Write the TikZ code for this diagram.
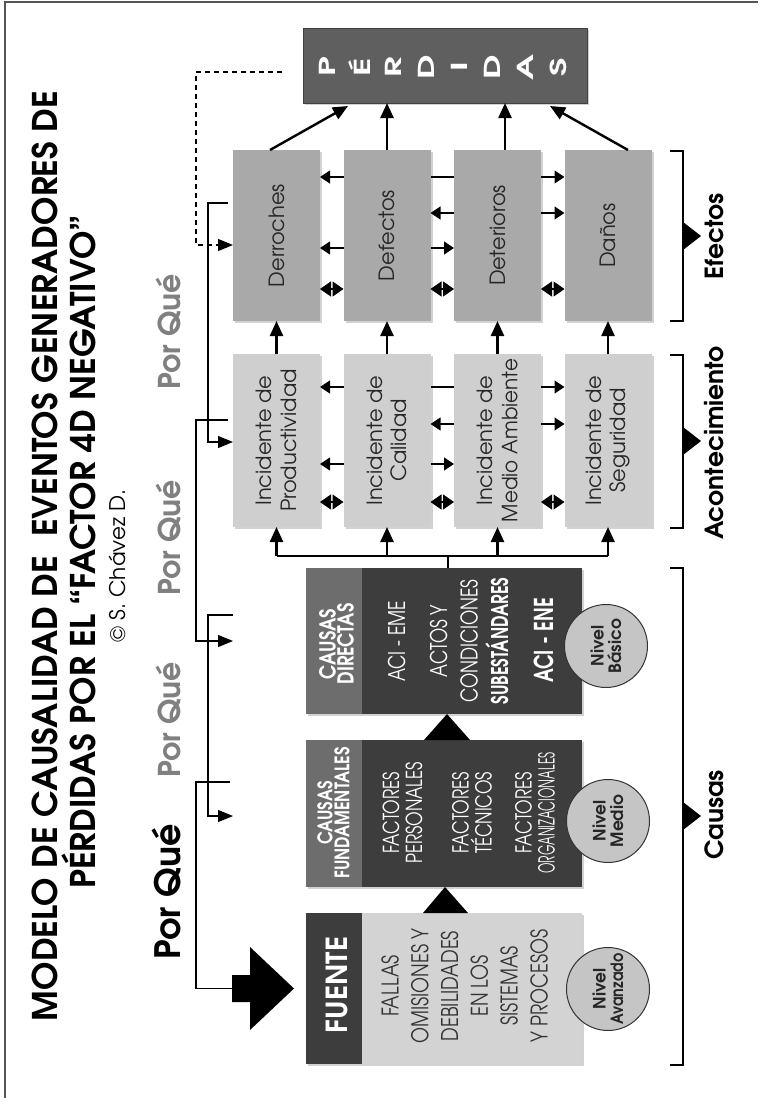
\documentclass[tikz,border=0pt]{standalone}
\usepackage{fontspec}
\setmainfont{texgyreadventor}[Extension=.otf,UprightFont=*-regular,BoldFont=*-bold,ItalicFont=*-italic,BoldItalicFont=*-bolditalic]
\newfontfamily\condR{texgyreadventor}[Extension=.otf,UprightFont=*-regular,BoldFont=*-bold,FakeStretch=0.76]
\newfontfamily\condB{texgyreadventor-bold}[Extension=.otf,FakeStretch=0.72]
\newfontfamily\condH{texgyreadventor-bold}[Extension=.otf,FakeStretch=0.82]
\newfontfamily\condF{texgyreadventor}[Extension=.otf,UprightFont=*-regular,FakeStretch=0.8]
\usetikzlibrary{arrows.meta,calc,shadows}
\definecolor{perdc}{HTML}{5F5F5F}
\definecolor{efc}{HTML}{A9A9A9}
\definecolor{inc}{HTML}{CFCFCF}
\definecolor{chd}{HTML}{6D6D6D}
\definecolor{cbd}{HTML}{3D3D3D}
\definecolor{fub}{HTML}{D3D3D3}
\definecolor{circc}{HTML}{C5C5C5}
\definecolor{pqg}{HTML}{808080}
\definecolor{fucol}{HTML}{333333}
\definecolor{framec}{HTML}{555555}
\begin{document}
\begin{tikzpicture}[x=1pt,y=-1pt,
  every node/.style={inner sep=0pt,outer sep=0pt},
  txt/.style={rotate=90,align=center},
  shd/.style={drop shadow={shadow xshift=2pt,shadow yshift=-2pt,opacity=.35}},
  ebox/.style={fill=efc,minimum width=87pt,minimum height=171pt,shd},
  ibox/.style={fill=inc,minimum width=87pt,minimum height=173pt,shd},
  cbox/.style={fill=cbd,minimum width=276pt,shd},
  circ/.style={circle,draw=fucol,line width=1pt,fill=circc,minimum size=83pt,rotate=90,align=center,
    font=\bfseries\fontsize{17}{17.5}\selectfont,text=black!85},
  btxt/.style={txt,font=\fontsize{21}{24.5}\selectfont,text=black!85},
  lbl/.style={txt,anchor=base,font=\bfseries\fontsize{25}{28}\selectfont},
  pqs/.style={txt,anchor=base,text=pqg,font=\bfseries\fontsize{30}{34}\selectfont},
  tk/.style={line width=2.4pt},
  harr/.style={line width=2.4pt,-{Triangle[length=15pt,width=13pt]}},
  sarr/.style={line width=1.1pt,-{Triangle[length=10pt,width=13pt]}},
  sline/.style={line width=1.1pt},
  darr/.style={line width=1.1pt,{Triangle[length=11pt,width=15pt]}-{Triangle[length=11pt,width=15pt]}},
  pq/.style={line width=1.1pt},
  pqarr/.style={line width=1.1pt,-{Triangle[length=15pt,width=12pt]}},
  brk/.style={line width=1.1pt}]
\useasboundingbox (0,0) rectangle (758,1098);
\fill[white] (0,0) rectangle (758,1098);
\draw[framec,line width=1.2pt] (5,1098) -- (5,2) -- (758,2);

% titles
\node[txt,anchor=base,font=\bfseries\fontsize{34}{40}\selectfont] (t1) at (57,556) {MODELO DE CAUSALIDAD DE\ \ EVENTOS GENERADORES DE};
\node[txt,anchor=base,font=\bfseries\fontsize{34}{40}\selectfont] (t2) at (95,552) {PÉRDIDAS POR EL “FACTOR 4D NEGATIVO”};
\node[txt,anchor=base,font=\fontsize{21.5}{24}\selectfont] (copy) at (125,566) {© S. Chávez D.};

% Por Que labels
\node[pqs] (pq1) at (180,332) {Por Qué};
\node[pqs] (pq2) at (180,538) {Por Qué};
\node[pqs] (pq3) at (180,720) {Por Qué};
\node[txt,anchor=base,font=\bfseries\fontsize{35}{40}\selectfont] (pq0) at (180,892) {Por Qué};

% PERDIDAS
\node[fill=perdc,minimum width=284pt,minimum height=75pt,shd,draw=black!75,line width=1pt] (per) at (445,65.5) {};
\foreach \l [count=\i from 0] in {P,É,R,D,I,D,A,S}
  \node[txt,text=white,font=\bfseries\fontsize{22}{24}\selectfont] (pl\i) at ({327+33*\i},67) {\scalebox{1.6}[1]{\l}};

% efectos
\node[ebox] (der) at (276.5,235.5) {};
\node[ebox] (def) at (387,235.5) {};
\node[ebox] (det) at (497.5,235.5) {};
\node[ebox] (dan) at (608,235.5) {};
\node[btxt] (derT) at (der.center) {Derroches};
\node[btxt] (defT) at (def.center) {Defectos};
\node[btxt] (detT) at (det.center) {Deterioros};
\node[btxt] (danT) at (dan.center) {Daños};

% incidentes
\node[ibox] (ip) at (276.5,440.5) {};
\node[ibox] (ic) at (387,440.5) {};
\node[ibox] (im) at (497.5,440.5) {};
\node[ibox] (is) at (608,440.5) {};
\node[btxt] (ipT) at (ip.center) {Incidente de\\Productividad};
\node[btxt] (icT) at (ic.center) {Incidente de\\Calidad};
\node[btxt] (imT) at (im.center) {Incidente de\\\scalebox{0.95}[1]{Medio Ambiente}};
\node[btxt] (isT) at (is.center) {Incidente de\\Seguridad};

% causas
\node[cbox,minimum height=146pt] (cd) at (444,641) {};
\fill[chd] (cd.north west) rectangle ($(cd.south west)+(56,0)$);
\node[cbox,minimum height=147pt] (cf) at (444,813.5) {};
\fill[chd] (cf.north west) rectangle ($(cf.south west)+(56,0)$);
\node[cbox,fill=fub,minimum height=151pt] (fu) at (444,988.5) {};
\fill[cbd] (fu.north west) rectangle ($(fu.south west)+(56,0)$);

\node[txt,text=white,font=\condH\fontsize{22}{18}\selectfont] (cdH) at (336.5,644) {CAUSAS\\DIRECTAS};
\node[txt,text=white,font=\condH\fontsize{20}{17}\selectfont] (cfH) at (333.5,813) {CAUSAS\\FUNDAMENTALES};
\node[txt,anchor=base,text=white,font=\bfseries\fontsize{29}{32}\selectfont] (fuH) at (347,985) {FUENTE};

\node[txt,anchor=base,text=white,font=\condR\fontsize{23}{26}\selectfont] (cd1) at (405,641.5) {ACI - EME};
\node[txt,text=white,font=\condR\fontsize{23}{30.5}\selectfont] (cd2) at (469,641) {ACTOS Y\\CONDICIONES\\{\condB SUBESTÁNDARES}};
\node[txt,anchor=base,text=white,font=\condB\fontsize{26}{28}\selectfont] (cd3) at (553,640.5) {ACI - ENE};

\node[txt,text=white,font=\condR\fontsize{22}{23}\selectfont] (cf1) at (402.5,813) {FACTORES\\PERSONALES};
\node[txt,text=white,font=\condR\fontsize{22}{23}\selectfont] (cf2) at (472,813) {FACTORES\\TÉCNICOS};
\node[txt,text=white,font=\condR\fontsize{22}{23}\selectfont] (cf3) at (535,813) {FACTORES\\\scalebox{0.72}[1]{ORGANIZACIONALES}};

\node[txt,text=fucol,font=\condF\fontsize{23}{29.8}\selectfont] (fuT) at (464.5,986) {FALLAS\\OMISIONES Y\\DEBILIDADES\\EN LOS\\SISTEMAS\\Y PROCESOS};

% level circles
\node[circ] (nb) at (606,646) {Nivel\\Básico};
\node[circ] (nm) at (608,821) {Nivel\\Medio};
\node[circ] (na) at (608,989) {Nivel\\\scalebox{0.85}[1]{Avanzado}};

% triangles between causas
\fill ($(cd.south)+(3,0)$) -- ($(cf.north)+(26,0)$) -- ($(cf.north)+(-20,0)$) -- cycle;
\fill ($(cf.south)+(1,0)$) -- ($(fu.north)+(24,0)$) -- ($(fu.north)+(-21,0)$) -- cycle;

% hub
\coordinate (hub) at (448,556);
\draw[tk] (cd.north -| hub) -- (hub);
\draw[tk] (ip.south |- hub) -- (is.south |- hub);
\foreach \n in {ip,ic,im,is} \draw[harr] (\n.south |- hub) -- (\n.south);

% incidente -> efecto
\draw[harr] (ip.north) -- (der.south);
\draw[harr] (ic.north) -- (def.south);
\draw[harr] (im.north) -- (det.south);
\draw[harr] (is.north) -- (dan.south);

% efecto -> perdidas
\draw[harr] ([xshift=-6.5pt]der.north) -- ($(per.south west)+(45,3)$);
\draw[harr] (def.north) -- (def.north |- per.south);
\draw[harr] ([xshift=7.5pt]det.north) -- ([xshift=7.5pt]det.north |- per.south);
\draw[harr] ([xshift=20pt]dan.north) -- ($(per.south east)+(-37,3)$);

% side arrows, efectos row
\draw[sarr] (def.west |- 0,177) -- (der.east |- 0,177);
\draw[sline] (det.west |- 0,177) -- (def.east |- 0,177);
\draw[sarr] (det.east |- 0,177) -- (dan.west |- 0,177);
\draw[sarr] (det.west |- 0,213) -- (def.east |- 0,213);
\draw[sarr] (det.east |- 0,213) -- (dan.west |- 0,213);
\draw[sarr] (def.west |- 0,248) -- (der.east |- 0,248);
\draw[sarr] (def.east |- 0,248) -- (det.west |- 0,248);
\draw[darr] (der.east |- 0,289) -- (def.west |- 0,289);
\draw[darr] (def.east |- 0,289) -- (det.west |- 0,289);
\draw[darr] (det.east |- 0,289) -- (dan.west |- 0,289);

% side arrows, incidente row
\draw[sarr] (ic.west |- 0,387) -- (ip.east |- 0,387);
\draw[sline] (im.west |- 0,387) -- (ic.east |- 0,387);
\draw[sarr] (im.east |- 0,387) -- (is.west |- 0,387);
\draw[sarr] (im.west |- 0,424) -- (ic.east |- 0,424);
\draw[sarr] (im.east |- 0,424) -- (is.west |- 0,424);
\draw[sarr] (ic.west |- 0,464) -- (ip.east |- 0,464);
\draw[sarr] (ic.east |- 0,464) -- (im.west |- 0,464);
\draw[darr] (ip.east |- 0,502) -- (ic.west |- 0,502);
\draw[darr] (ic.east |- 0,502) -- (im.west |- 0,502);
\draw[darr] (im.east |- 0,502) -- (is.west |- 0,502);

% por que lines
\draw[pqarr,dash pattern=on 5pt off 4pt] ([xshift=-21pt]per.west |- 0,72) -- (196,72) -- (196,245) -- (der.west |- 0,245);
\draw[pqarr] ([xshift=-5pt]der.west |- 0,203) -- (208,203) -- (208,442) -- (ip.west |- 0,442);
\draw[pqarr] ([xshift=-5pt]ip.west |- 0,420) -- (196,420) -- (196,641) -- (ip.west |- cd);
\draw[pqarr] (ip.west |- 0,615) -- (208,615) -- (208,816) -- (ip.west |- 0,816);
\draw[pq] ([xshift=-3pt]ip.west |- 0,782) -- (196,782) -- (196,988.5) -- (232,988.5);
\fill (232,975) -- (250,975) -- (250,947) -- (294,988.5) -- (250,1030) -- (250,1002) -- (232,1002) -- cycle;

% brackets
\draw[brk] (670,151) -- (683,151) -- (683,321) -- (670,321);
\fill (683,222) -- (701,236) -- (683,250) -- cycle;
\draw[brk] (670,355) -- (683,355) -- (683,528) -- (670,528);
\fill (683,427) -- (701,441) -- (683,455) -- cycle;
\draw[brk] (670,568) -- (683,568) -- (683,1065) -- (670,1065);
\fill (683,802) -- (701,816) -- (683,830) -- cycle;
\node[lbl] (lef) at (723.5,236) {Efectos};
\node[lbl] (lac) at (723.5,443) {Acontecimiento};
\node[lbl] (lca) at (723.5,815) {Causas};
\end{tikzpicture}
\end{document}
